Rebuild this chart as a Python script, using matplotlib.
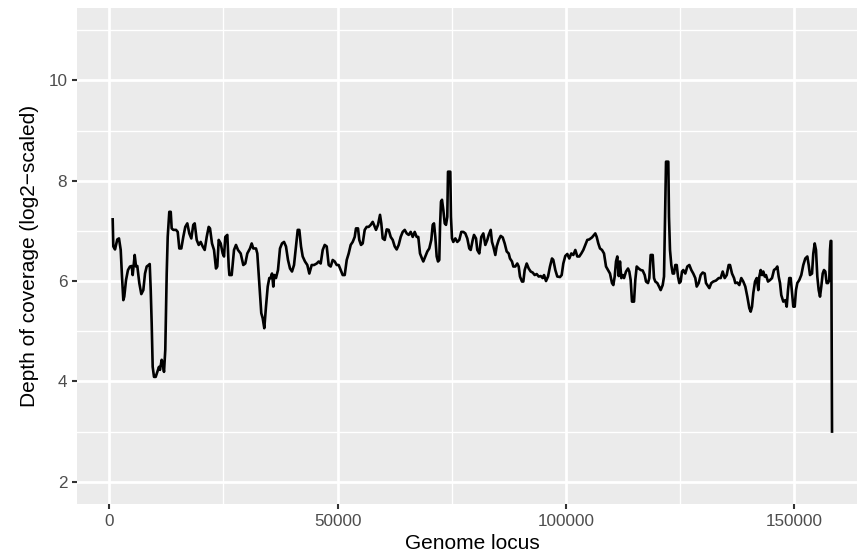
import matplotlib
matplotlib.use("Agg")
import matplotlib.pyplot as plt
from matplotlib.ticker import FixedLocator

plt.rcParams['font.family'] = ['Liberation Sans', 'DejaVu Sans']

# Genome locus (bp) and depth of coverage (log2-scaled)
locus = [
    740, 880, 1250, 1750, 2120, 2500, 2780, 3070, 3280, 3660, 4090, 4530, 4910, 5120,
    5560, 5850, 6130, 6570, 7010, 7450, 7820, 8190, 8630, 8850, 9070, 9280, 9500, 9790,
    10160, 10510, 10880, 11100, 11470, 11690, 11980, 12260, 12570, 12790, 13140, 13450,
    13660, 14010, 14610, 14980, 15330, 15770, 16200, 16640, 17080, 17520, 17960, 18390,
    18700, 19140, 19580, 20010, 20450, 20890, 21330, 21770, 22050, 22490, 22930, 23360,
    23650, 23960, 24390, 24830, 25120, 25400, 25840, 26150,
    26300, 26800, 27310, 27740, 28180, 28770, 29340, 29780, 30220, 30810, 31180, 31530,
    32120, 32410, 32850, 33280, 33590, 33940, 34310, 34690, 35040, 35340, 35630, 35910,
    36130, 36500, 36940, 37380, 37820, 38260, 38690, 39130, 39570, 40010, 40450, 40880,
    41260, 41610, 41980, 42350, 42850, 43360, 43800, 44320, 44830, 45420, 45850, 46290,
    46730, 47170, 47610, 48040, 48480, 48920, 49360, 49800, 50230, 50670, 51110, 51550,
    51990, 52420,
    52860, 53300, 53740, 54020, 54460, 54740, 55120, 55490, 55930, 56360, 56800, 57240,
    57680, 57960, 58400, 58840, 59280, 59560, 59870, 60310, 60740, 61180, 61620, 62060,
    62500, 62930, 63370, 63810, 64250, 64690, 65120, 65560, 66000, 66440, 66880, 67310,
    67660, 68040, 68470, 68760, 69200, 69640, 70070, 70510, 70820, 71100, 71390, 71690,
    71980, 72260, 72420, 72630, 72850, 73140, 73450, 73730, 74010, 74170, 74670, 74820,
    75040, 75330, 75770, 76200, 76640, 77080, 77520, 77960, 78390, 78830,
    79140, 79580, 79860, 80300, 80580, 81020, 81460, 81900, 82340, 82770, 83080, 83520,
    83800, 84090, 84530, 84830, 85270, 85710, 86150, 86580, 87020, 87460, 87740, 88180,
    88470, 88900, 89340, 89650, 89930, 90370, 90660, 90960, 91400, 91840, 92280, 92710,
    93150, 93590, 94030, 94470, 94900, 95190, 95630, 96070, 96500, 96940, 97230, 97670,
    98100, 98690, 99060, 99420, 99850, 100290, 100730, 101170, 101610, 102050, 102480,
    102920, 103360, 103800, 104230, 104670, 105110,
    105700, 106140, 106420, 106730, 107080, 107450, 107890, 108330, 108770, 109200,
    109640, 110080, 110370, 110670, 110960, 111240, 111550, 111830, 112120, 112420,
    112710, 113150, 113590, 113870, 114170, 114460, 114900, 115180, 115490, 115930,
    116370, 116800, 117240, 117530, 117960, 118250, 118550, 118990, 119280, 119560,
    120000, 120440, 120740, 121180, 121470, 121690, 121910, 122410, 122560, 122780,
    123070, 123370, 123660, 123940, 124250, 124530, 124820, 125120, 125410, 125690,
    126130, 126570, 127010, 127450, 127880, 128320, 128630, 129070, 129500, 129940, 130380,
    130660, 130950, 131390, 131820, 132260, 132850, 133450, 133880, 134320, 134760,
    135200, 135630, 135920, 136360, 136800, 137080, 137520, 137960, 138390, 138830,
    139270, 139710, 140150, 140450, 140740, 141020, 141400, 141770, 142120, 142340,
    142640, 142930, 143210, 143520, 143800, 144240, 144680, 145120, 145550, 145990,
    146280, 146580, 146870, 147150, 147590, 148030, 148340, 148620, 148900, 149210,
    149500, 149780, 150090, 150370, 150660, 151090, 151530, 151970, 152410, 152850,
    153150, 153440, 153880, 154160, 154470, 154750, 155040, 155340, 155630, 155910,
    156220, 156500, 156790, 157090, 157380, 157660, 157820, 157970, 158100, 158260,
]

depth = [
    7.23, 6.69, 6.63, 6.83, 6.85, 6.62, 6.09, 5.62, 5.69, 6.02, 6.22, 6.29, 6.30, 6.12,
    6.52, 6.29, 6.30, 5.96, 5.74, 5.82, 6.15, 6.29, 6.32, 6.34, 5.82, 5.16, 4.29, 4.09,
    4.09, 4.19, 4.29, 4.23, 4.43, 4.36, 4.19, 4.63, 6.15, 6.88, 7.38, 7.38,
    7.05, 7.02, 7.02, 6.98, 6.65, 6.65, 6.88, 7.08, 7.15, 6.95, 6.85, 7.12,
    7.15, 6.82, 6.72, 6.78, 6.69, 6.62, 6.88, 7.08, 7.05, 6.75, 6.62, 6.25,
    6.29, 6.82, 6.75, 6.55, 6.49, 6.88, 6.92, 6.29,
    6.12, 6.12, 6.62, 6.72, 6.62, 6.55, 6.32, 6.35, 6.55, 6.65, 6.75, 6.65,
    6.65, 6.55, 5.96, 5.36, 5.26, 5.06, 5.49, 5.89, 6.06, 6.06, 6.15, 5.89,
    6.12, 6.06, 6.22, 6.65, 6.75, 6.78, 6.69, 6.42, 6.25, 6.19, 6.32, 6.69,
    7.02, 7.02, 6.69, 6.49, 6.39, 6.32, 6.15, 6.32, 6.32, 6.35, 6.39, 6.35,
    6.62, 6.72, 6.69, 6.32, 6.29, 6.42, 6.39, 6.32, 6.32, 6.22, 6.12, 6.12,
    6.42, 6.55,
    6.72, 6.78, 6.88, 7.05, 7.05, 6.82, 6.72, 6.75, 7.02, 7.08, 7.08, 7.12,
    7.18, 7.12, 7.02, 7.12, 7.32, 7.15, 6.85, 6.82, 7.03, 7.02, 6.88, 6.82,
    6.69, 6.63, 6.72, 6.88, 6.98, 7.02, 6.95, 6.92, 6.98, 6.88, 6.98, 6.88,
    6.88, 6.55, 6.45, 6.39, 6.49, 6.59, 6.65, 6.82, 7.12, 7.15, 6.88, 6.49,
    6.39, 6.42, 7.08, 7.58, 7.62, 7.42, 7.15, 7.12, 7.28, 8.18, 8.18, 7.28,
    6.85, 6.78, 6.85, 6.78, 6.82, 6.98, 6.98, 6.95, 6.85, 6.65,
    6.62, 6.82, 6.92, 6.85, 6.62, 6.55, 6.88, 6.95, 6.72, 6.82, 6.92, 7.02,
    6.78, 6.69, 6.52, 6.69, 6.82, 6.90, 6.87, 6.75, 6.59, 6.55, 6.45, 6.39,
    6.29, 6.29, 6.35, 6.29, 6.09, 5.99, 5.99, 6.22, 6.35, 6.25, 6.19, 6.17,
    6.12, 6.14, 6.09, 6.10, 6.06, 6.12, 6.00, 6.09, 6.29, 6.45, 6.42, 6.22,
    6.09, 6.08, 6.12, 6.35, 6.50, 6.54, 6.45, 6.55, 6.52, 6.62, 6.49,
    6.49, 6.55, 6.62, 6.72, 6.82, 6.83,
    6.87, 6.92, 6.95, 6.88, 6.75, 6.65, 6.62, 6.55, 6.29, 6.22,
    6.15, 5.96, 5.92, 6.09, 6.39, 6.49, 6.10, 6.39, 6.06, 6.12,
    6.06, 6.19, 6.25, 6.19, 6.02, 5.59, 5.59, 6.02, 6.29, 6.25,
    6.22, 6.21, 6.12, 5.99, 5.96, 6.06, 6.52, 6.52, 6.06, 5.99,
    5.96, 5.88, 5.82, 5.92, 6.09, 7.28, 8.38, 8.38, 7.28, 6.62,
    6.32, 6.15, 6.15, 6.32, 6.32, 6.09, 5.96, 5.99, 6.19, 6.22,
    6.15, 6.29, 6.32, 6.22, 6.15, 6.06, 5.89, 5.96, 6.12, 6.17, 6.15,
    5.96, 5.92, 5.86, 5.96, 5.99, 6.01, 6.06, 6.06, 6.19, 6.06,
    6.12, 6.32, 6.32, 6.15, 6.06, 5.96, 5.97, 5.92, 6.06, 5.99,
    5.89, 5.69, 5.46, 5.39, 5.49, 5.76, 5.99, 6.06, 5.82, 6.09,
    6.22, 6.12, 6.19, 6.09, 6.12, 5.99, 6.02, 6.06, 6.22, 6.25,
    6.29, 6.09, 5.96, 5.72, 5.59, 5.62, 5.49, 5.82, 6.06, 6.06,
    5.76, 5.49, 5.49, 5.82, 5.96, 6.02, 6.12, 6.32, 6.45, 6.49,
    6.32, 6.12, 6.15, 6.55, 6.75, 6.62, 6.09, 5.82, 5.69, 5.89,
    6.15, 6.22, 6.19, 5.96, 5.96, 6.02, 6.62, 6.80, 6.80, 3.00,
]

x_breaks = [0, 50000, 100000, 150000]
x_minor = [25000, 75000, 125000]
y_breaks = [2, 4, 6, 8, 10]
y_minor = [3, 5, 7, 9, 11]
y_limits = [2, 11]

W, H = 857, 558
fig = plt.figure(figsize=(W / 100, H / 100), dpi=100)

# ggplot-like 5% expansion
xr = max(locus) - min(locus)
xlim = (min(locus) - 0.05 * xr, max(locus) + 0.05 * xr)
yr = y_limits[1] - y_limits[0]
ylim = (y_limits[0] - 0.05 * yr, y_limits[1] + 0.05 * yr)

# panel placement (pixels): x=0 at 109.3, x=150000 at 794.3; panel top 7.65, bottom 504.3
ppu = (794.3 - 109.3) / 150000.0
left_px = 109.3 + xlim[0] * ppu
width_px = (xlim[1] - xlim[0]) * ppu
top_px, bottom_px = 7.65, 504.3
ax = fig.add_axes([left_px / W, 1 - bottom_px / H, width_px / W, (bottom_px - top_px) / H])

ax.set_facecolor('#EBEBEB')
for s in ax.spines.values():
    s.set_visible(False)

ax.plot(locus, depth, color='black', lw=1.9, solid_joinstyle='round', zorder=3)

ax.set_xlim(*xlim)
ax.set_ylim(*ylim)
ax.xaxis.set_major_locator(FixedLocator(x_breaks))
ax.xaxis.set_minor_locator(FixedLocator(x_minor))
ax.yaxis.set_major_locator(FixedLocator(y_breaks))
ax.yaxis.set_minor_locator(FixedLocator(y_minor))
ax.set_xticklabels([str(v) for v in x_breaks])
ax.set_yticklabels([str(v) for v in y_breaks])

ax.grid(which='major', color='white', lw=1.95)
ax.grid(which='minor', color='white', lw=0.97)
ax.set_axisbelow(True)

ax.tick_params(which='major', length=3.76, width=1.5, color='#333333',
               labelcolor='#4D4D4D', labelsize=12.3, pad=3)
ax.tick_params(which='minor', length=0)

ax.set_xlabel('Genome locus', fontsize=15, color='black', labelpad=3.5)
ax.set_ylabel('Depth of coverage (log2\u2212scaled)', fontsize=15, color='black', labelpad=7)

fig.savefig('out.png', dpi=100)
